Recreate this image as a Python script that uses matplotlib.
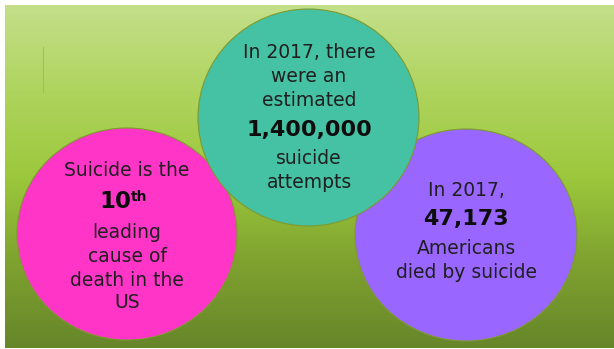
import numpy as np
import matplotlib.pyplot as plt
from matplotlib.patches import Ellipse
from matplotlib.colors import LinearSegmentedColormap

# text of the three bubbles
pink_lines = ["Suicide is the", "10", "leading", "cause of", "death in the", "US"]
pink_sup = "th"
teal_lines = ["In 2017, there", "were an", "estimated", "1,400,000", "suicide", "attempts"]
purple_lines = ["In 2017,", "47,173", "Americans", "died by suicide"]

pink_bold = [1]
teal_bold = [3]
purple_bold = [1]

fig = plt.figure(figsize=(6.14, 3.49), dpi=100)
ax = fig.add_axes([0, 0, 1, 1])
ax.set_xlim(0, 614)
ax.set_ylim(349, 0)
ax.axis("off")

# green background gradient
bg = LinearSegmentedColormap.from_list("bg", ["#c4df8a", "#afd45e", "#9cc83c", "#7fa22f", "#66862a"])
grad = np.linspace(0, 1, 256).reshape(-1, 1)
ax.imshow(grad, cmap=bg, aspect="auto", extent=[5, 614, 348, 5], zorder=0)
ax.plot([43, 43], [47, 92], color="#9cc64a", lw=0.8, zorder=1)

edge = "#7e9a2e"
ax.add_patch(Ellipse((127, 234), 220, 212, facecolor="#ff35c8", edgecolor=edge, lw=0.8, zorder=2))
ax.add_patch(Ellipse((466, 235), 222, 212, facecolor="#9966ff", edgecolor=edge, lw=0.8, zorder=2))
ax.add_patch(Ellipse((308.5, 117.5), 221, 217, facecolor="#45c1a4", edgecolor=edge, lw=0.8, zorder=3))

fam = ["DejaVu Sans"]

def put_lines(lines, bold, x, ys, z):
    for i, (txt, y) in enumerate(zip(lines, ys)):
        if i in bold:
            ax.text(x, y, txt, ha="center", va="center", fontsize=16, fontweight="bold",
                    color="#0d0d0d", family=fam, zorder=z)
        else:
            ax.text(x, y, txt, ha="center", va="center", fontsize=13.5, color="#1f1f1f",
                    family=fam, zorder=z)

put_lines(teal_lines, teal_bold, 309, [52, 77, 101, 130, 159, 183], 4)
put_lines(purple_lines, purple_bold, 466, [190, 219, 248, 272], 4)

pink_ys = [171, 202, 232, 256, 280, 303]
for i, (txt, y) in enumerate(zip(pink_lines, pink_ys)):
    if i == 1:
        ax.text(131, y, txt, ha="right", va="center", fontsize=16.5, fontweight="bold",
                color="#0d0d0d", family=fam, zorder=4)
        ax.text(131, y - 5, pink_sup, ha="left", va="center", fontsize=10, fontweight="bold",
                color="#0d0d0d", family=fam, zorder=4)
    else:
        ax.text(127, y, txt, ha="center", va="center", fontsize=13.5, color="#1f1f1f",
                family=fam, zorder=4)

fig.savefig("out.png", dpi=100, facecolor="white")
